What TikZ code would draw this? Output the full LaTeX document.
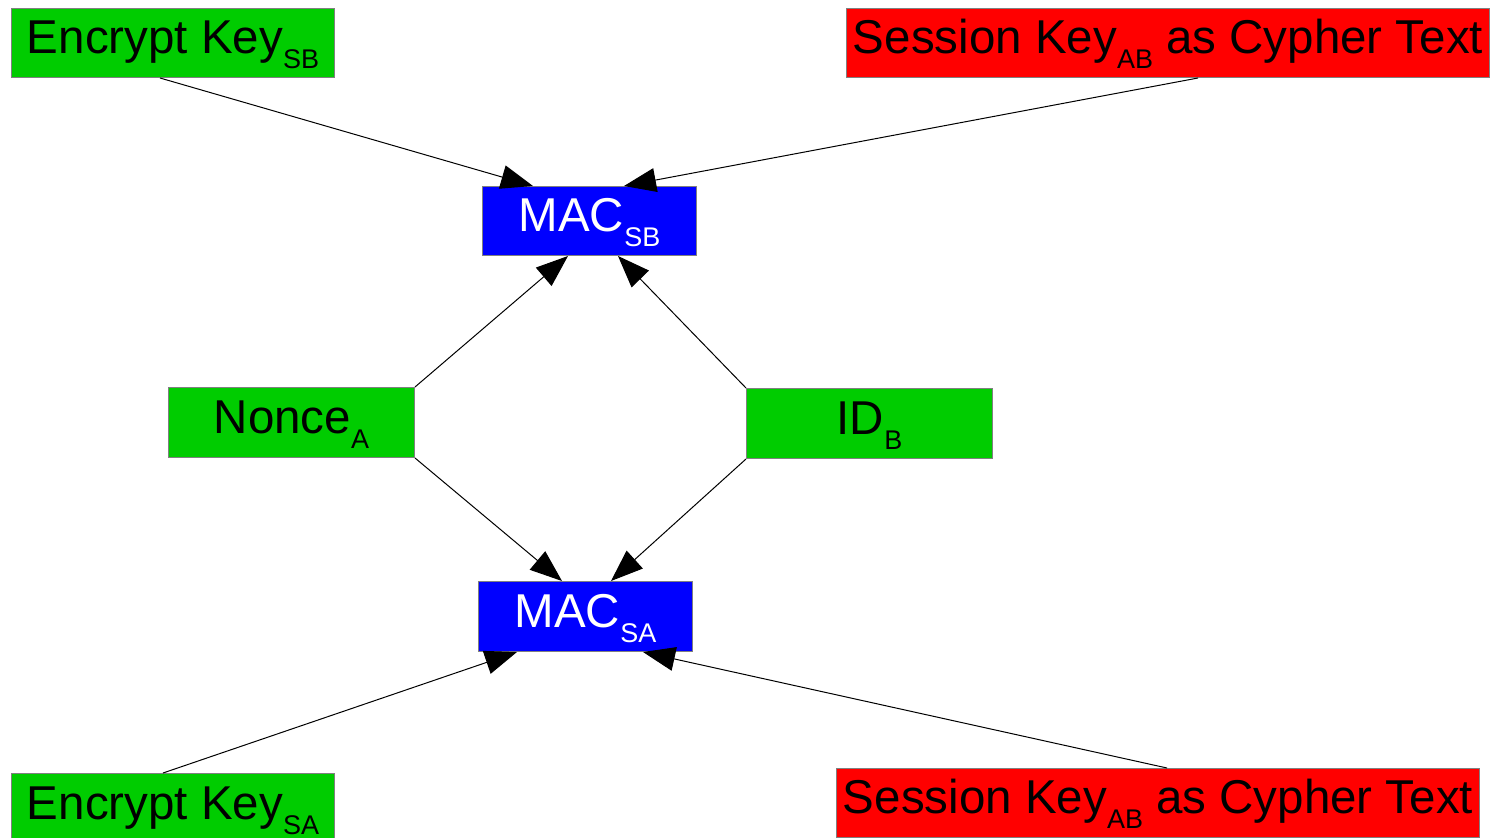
\documentclass[tikz,border=0pt]{standalone}
\usepackage{fontspec}
\setmainfont{Liberation Sans}
\usetikzlibrary{arrows.meta,calc}

\definecolor{boxgreen}{RGB}{0,204,0}
\definecolor{boxred}{RGB}{255,0,0}
\definecolor{boxblue}{RGB}{0,0,255}
\definecolor{edgegray}{RGB}{128,128,128}

% label with a lowered, smaller subscript
\newcommand{\subtag}[2]{#1\raisebox{-15pt}{\fontsize{27pt}{27pt}\selectfont #2}}

\tikzset{
  block/.style={draw=edgegray, line width=1pt, inner sep=0pt, anchor=north west,
    text height=35pt, text depth=14pt, font=\fontsize{47.5pt}{50pt}\selectfont},
  plainkey/.style={block, fill=boxgreen, text=black},
  cipher/.style={block, fill=boxred, text=black},
  macbox/.style={block, fill=boxblue, text=white},
  feed/.style={line width=1pt, -{Triangle[length=32pt,width=24pt]}}
}

\begin{document}
\begin{tikzpicture}[x=1pt, y=-1pt]
\useasboundingbox (0,0) rectangle (1497,838);
\clip (0,0) rectangle (1497,838);

% inputs and MAC blocks
\node[plainkey, minimum width=323pt, minimum height=69pt] (eksb) at (11,8) {\subtag{Encrypt Key}{SB}};
\node[cipher, minimum width=643pt, minimum height=69pt] (sktop) at (846,8) {\subtag{Session Key}{AB} as Cypher Text};
\node[macbox, minimum width=214pt, minimum height=69pt] (macb) at (482,186) {\subtag{MAC}{SB}};
\node[plainkey, minimum width=246pt, minimum height=70pt] (nonce) at (168,387) {\subtag{Nonce}{A}};
\node[plainkey, minimum width=246pt, minimum height=70pt] (idb) at (746,388) {\subtag{ID}{B}};
\node[macbox, minimum width=214pt, minimum height=70pt] (maca) at (478,581) {\subtag{MAC}{SA}};
\node[plainkey, minimum width=323pt, minimum height=70pt] (eksa) at (11,773) {\subtag{Encrypt Key}{SA}};
\node[cipher, minimum width=643pt, minimum height=69pt] (skbot) at (836,768) {\subtag{Session Key}{AB} as Cypher Text};

% connectors into MAC_SB
\draw[feed] ($(eksb.south west)+(149,0)$) -- ($(macb.north west)+(51,0)$);
\draw[feed] ($(sktop.south west)+(352,0)$) -- ($(macb.north west)+(142,0)$);
\draw[feed] (nonce.north east) -- ($(macb.south west)+(86,0)$);
\draw[feed] (idb.north west) -- ($(macb.south west)+(136,0)$);

% connectors into MAC_SA
\draw[feed] (nonce.south east) -- ($(maca.north west)+(84,0)$);
\draw[feed] (idb.south west) -- ($(maca.north west)+(133,0)$);
\draw[feed] ($(eksa.north west)+(152,0)$) -- ($(maca.south west)+(39,0)$);
\draw[feed] ($(skbot.north west)+(331,0)$) -- ($(maca.south west)+(165,0)$);
\end{tikzpicture}
\end{document}
